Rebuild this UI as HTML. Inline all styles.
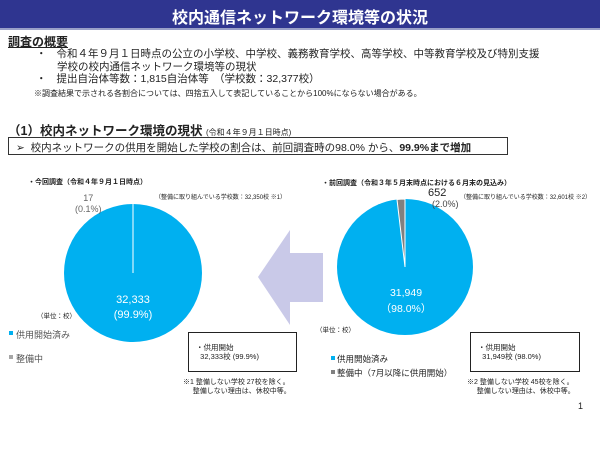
<!DOCTYPE html><html><head><meta charset="utf-8"><style>
body{margin:0;width:600px;height:465px;background:#fff;position:relative;overflow:hidden;font-family:"Liberation Sans","Noto Sans CJK JP",sans-serif;color:#222}
.a{position:absolute;white-space:nowrap}
</style></head><body>
<div class="a" style="left:0;top:0;width:600px;height:28px;background:#2f3590;border-bottom:2px solid #9aa0c8"></div>
<div class="a" style="left:0;top:4px;width:600px;text-align:center;color:#fff;font-size:16px;font-weight:bold">校内通信ネットワーク環境等の状況</div>
<div class="a" style="left:8px;top:33px;font-size:12px;font-weight:bold;text-decoration:underline">調査の概要</div>
<div class="a" style="left:36px;top:48px;font-size:10.5px;line-height:12.5px">・<span style="padding-left:10px">令和４年９月１日時点の公立の小学校、中学校、義務教育学校、高等学校、中等教育学校及び特別支援</span><br><span style="padding-left:21px">学校の校内通信ネットワーク環境等の現状</span><br>・<span style="padding-left:10px">提出自治体等数：1,815自治体等　（学校数：32,377校）</span></div>
<div class="a" style="left:34px;top:88px;font-size:8px">※調査結果で示される各割合については、四捨五入して表記していることから100%にならない場合がある。</div>
<div class="a" style="left:8px;top:120px;font-size:12.5px;font-weight:bold">（1）校内ネットワーク環境の現状 <span style="font-size:8px;font-weight:normal">(令和４年９月１日時点)</span></div>
<div class="a" style="left:8px;top:137px;width:500px;height:18px;border:1px solid #333;box-sizing:border-box"></div>
<div class="a" style="left:16px;top:140px;font-size:10.5px">➢&nbsp; 校内ネットワークの供用を開始した学校の割合は、前回調査時の98.0% から、<b>99.9%まで増加</b></div>
<svg class="a" style="left:0;top:0" width="600" height="465">
<circle cx="133" cy="273" r="69" fill="#00b0f0"/>
<line x1="133" y1="204" x2="133" y2="273" stroke="#fff" stroke-width="1"/>
<circle cx="405" cy="267" r="68" fill="#00b0f0"/>
<path d="M405 267 L397 199.5 A68 68 0 0 1 405 199 Z" fill="#808080" stroke="#fff" stroke-width="1"/>
<polygon points="258,277 290,230 290,253 323,253 323,302 290,302 290,325" fill="#c9c9e8"/>
<rect x="9" y="331" width="4" height="4" fill="#00b0f0"/><rect x="9" y="355" width="4" height="4" fill="#a6a6a6"/>
<rect x="331" y="356" width="4" height="4" fill="#00b0f0"/><rect x="331" y="370" width="4" height="4" fill="#808080"/>
</svg>
<div class="a" style="left:28px;top:177px;font-size:7px;font-weight:bold">・今回調査（令和４年９月１日時点）</div>
<div class="a" style="left:155px;top:192px;font-size:6px">（整備に取り組んでいる学校数：32,350校 ※1）</div>
<div class="a" style="left:75px;top:193px;font-size:9px;color:#666;text-align:center;line-height:11px">17<br>(0.1%)</div>
<div class="a" style="left:103px;top:293px;width:60px;text-align:center;font-size:11px;color:#fff;line-height:15px">32,333<br>(99.9%)</div>
<div class="a" style="left:37px;top:310px;font-size:6.5px">（単位：校）</div>
<div class="a" style="left:16px;top:328px;font-size:9px;color:#555">供用開始済み</div>
<div class="a" style="left:16px;top:352px;font-size:9px;color:#555">整備中</div>
<div class="a" style="left:188px;top:332px;width:109px;height:40px;border:1px solid #222;box-sizing:border-box"></div>
<div class="a" style="left:196px;top:343px;font-size:7.5px;line-height:9px">・供用開始<br>&nbsp;&nbsp;32,333校 (99.9%)</div>
<div class="a" style="left:183px;top:378px;font-size:7px;line-height:9px">※1 整備しない学校 27校を除く。<br>&nbsp;&nbsp;&nbsp;&nbsp;&nbsp;整備しない理由は、休校中等。</div>
<div class="a" style="left:322px;top:178px;font-size:7px;font-weight:bold">・前回調査（令和３年５月末時点における６月末の見込み）</div>
<div class="a" style="left:428px;top:188px;font-size:11px;line-height:11px">652</div>
<div class="a" style="left:432px;top:199px;font-size:9px;color:#444">(2.0%)</div>
<div class="a" style="left:460px;top:192px;font-size:6px">（整備に取り組んでいる学校数：32,601校 ※2）</div>
<div class="a" style="left:376px;top:285px;width:60px;text-align:center;font-size:10.5px;color:#fff;line-height:16px">31,949<br>（98.0%）</div>
<div class="a" style="left:316px;top:324px;font-size:6.5px">（単位：校）</div>
<div class="a" style="left:337px;top:353px;font-size:8.5px">供用開始済み</div>
<div class="a" style="left:337px;top:367px;font-size:8.5px">整備中（7月以降に供用開始）</div>
<div class="a" style="left:470px;top:332px;width:110px;height:40px;border:1px solid #222;box-sizing:border-box"></div>
<div class="a" style="left:478px;top:343px;font-size:7.5px;line-height:9px">・供用開始<br>&nbsp;&nbsp;31,949校 (98.0%)</div>
<div class="a" style="left:467px;top:378px;font-size:7px;line-height:9px">※2 整備しない学校 45校を除く。<br>&nbsp;&nbsp;&nbsp;&nbsp;&nbsp;整備しない理由は、休校中等。</div>
<div class="a" style="left:578px;top:401px;font-size:9px">1</div>
</body></html>
